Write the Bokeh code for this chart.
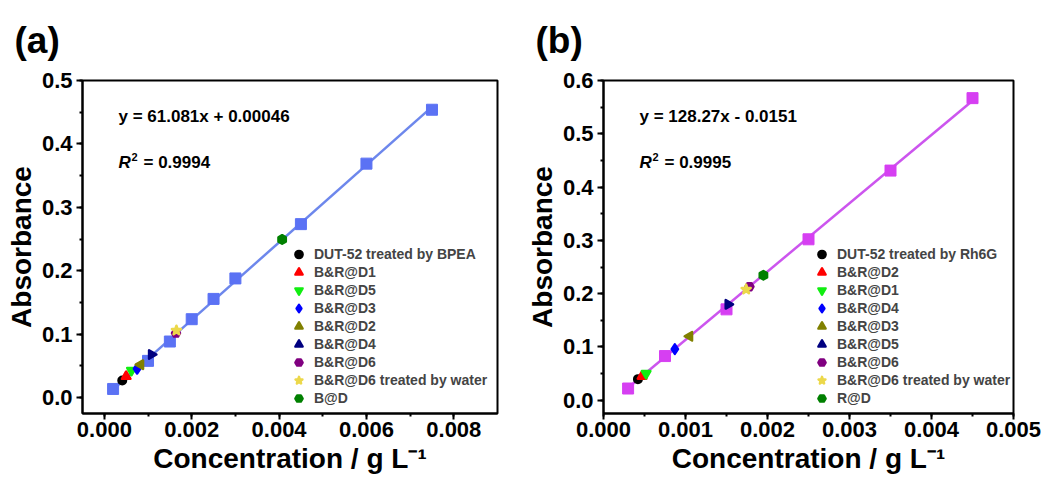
import math
from bokeh.plotting import figure
from bokeh.layouts import row
from bokeh.models import (Label, Legend, LegendItem, SingleIntervalTicker,
                          NumeralTickFormatter, Range1d)
from bokeh.embed import file_html
from bokeh.resources import INLINE

FONT = "Liberation Sans"

# ---- panel (a): BPEA calibration ----
std_a_x = [0.0002, 0.001, 0.0015, 0.002, 0.0025, 0.003, 0.0045, 0.006, 0.0075]
std_a_y = [0.0137, 0.058, 0.0885, 0.1237, 0.1557, 0.188, 0.2736, 0.369, 0.454]
slope_a, icpt_a, r2_a = 61.081, 0.00046, 0.9994

names_a = ["DUT-52 treated by BPEA", "B&R@D1", "B&R@D5", "B&R@D3", "B&R@D2",
           "B&R@D4", "B&R@D6", "B&R@D6 treated by water", "B@D"]
samp_a_x = [0.00041, 0.0005, 0.00062, 0.00075, 0.00083, 0.00108, 0.00164, 0.00165, 0.00407]
samp_a_y = [0.027, 0.0335, 0.043, 0.0456, 0.052, 0.068, 0.1017, 0.106, 0.2495]

# ---- panel (b): Rh6G calibration ----
std_b_x = [0.0003, 0.00075, 0.0015, 0.0025, 0.0035, 0.0045]
std_b_y = [0.0219, 0.0828, 0.1705, 0.302, 0.431, 0.567]
slope_b, icpt_b, r2_b = 128.27, -0.0151, 0.9995

names_b = ["DUT-52 treated by Rh6G", "B&R@D2", "B&R@D1", "B&R@D4", "B&R@D3",
           "B&R@D5", "B&R@D6", "B&R@D6 treated by water", "R@D"]
samp_b_x = [0.00042, 0.00047, 0.00052, 0.00087, 0.00105, 0.00152, 0.00178, 0.00174, 0.00195]
samp_b_y = [0.0395, 0.045, 0.050, 0.0959, 0.120, 0.180, 0.213, 0.208, 0.2345]

# marker styles shared by the sample series (in legend order)
sample_colors = ["#000000", "#ff0000", "#11ee11", "#0000ff", "#808000",
                 "#000080", "#800080", "#ecd84a", "#008000"]
sample_markers = ["circle", "triangle", "inverted_triangle", "diamond", "triangle",
                  "triangle", "hex", "star", "hex"]
sample_angles = [0, 0, 0, 0, math.pi / 2, -math.pi / 2, 0, 0, math.pi / 2]
sample_sizes = [7.5, 8.5, 8.5, 9.5, 8.5, 8.5, 8, 9.5, 8.5]


def make_panel(tag, std_x, std_y, slope, icpt, r2, names, sx, sy,
               sq_color, line_color, xr, yr, x_step, y_step,
               borders, legend_xy, standoff, eq_text):
    bl, br, bt, bb = borders
    p = figure(width=523, height=477, output_backend="svg", toolbar_location=None,
               x_range=Range1d(*xr), y_range=Range1d(*yr),
               min_border_left=bl, min_border_right=br,
               min_border_top=bt, min_border_bottom=bb)
    p.grid.visible = False
    p.outline_line_color = "black"
    p.outline_line_width = 2
    p.background_fill_color = "white"
    p.border_fill_color = "white"

    # panel tag
    p.title.text = tag
    p.title.text_font = FONT
    p.title.text_font_style = "bold"
    p.title.text_font_size = "37px"
    p.title.text_color = "black"
    p.title.align = "left"
    p.title.vertical_align = "top"
    p.title.offset = -68
    p.title.standoff = 36

    xax, yax = p.below[0], p.left[0]
    xax.ticker = SingleIntervalTicker(interval=x_step, num_minor_ticks=2)
    yax.ticker = SingleIntervalTicker(interval=y_step, num_minor_ticks=2)
    xax.formatter = NumeralTickFormatter(format="0.000")
    yax.formatter = NumeralTickFormatter(format="0.0")
    for ax in (xax, yax):
        ax.axis_line_width = 2
        ax.major_tick_line_width = 2
        ax.minor_tick_line_width = 2
        ax.major_tick_out = 6
        ax.major_tick_in = 0
        ax.minor_tick_out = 3
        ax.minor_tick_in = 0
        ax.major_label_text_font = FONT
        ax.major_label_text_font_style = "bold"
        ax.major_label_text_font_size = "22px"
        ax.major_label_text_color = "black"
        ax.axis_label_text_font = FONT
        ax.axis_label_text_font_style = "bold"
        ax.axis_label_text_font_size = "28px"
        ax.axis_label_text_color = "black"
    xax.major_label_standoff = 2
    yax.major_label_standoff = 4
    xax.axis_label = "Concentration / g L\u207b\u00b9"
    yax.axis_label = "Absorbance"
    xax.axis_label_standoff = 3
    yax.axis_label_standoff = 2

    # linear fit line drawn from the stated equation
    fx = [min(std_x), max(std_x)]
    fy = [slope * v + icpt for v in fx]
    p.line(fx, fy, line_color=line_color, line_width=2.5)
    p.scatter(std_x, std_y, marker="square", size=11, fill_color=sq_color,
              line_color=sq_color)

    items = []
    for i, name in enumerate(names):
        r = p.scatter([sx[i]], [sy[i]], marker=sample_markers[i],
                      size=sample_sizes[i], angle=sample_angles[i],
                      fill_color=sample_colors[i], line_color=sample_colors[i],
                      line_width=2.5, line_join="round")
        items.append(LegendItem(label=name, renderers=[r]))

    leg = Legend(items=items, location=legend_xy, border_line_color=None,
                 background_fill_alpha=0, padding=0, margin=0, spacing=0,
                 glyph_width=25, glyph_height=18, label_height=18,
                 label_standoff=standoff, label_text_font=FONT,
                 label_text_font_style="bold", label_text_font_size="14px")
    p.add_layout(leg, "center")

    def lab(text, x, y, size, style="bold", **kw):
        p.add_layout(Label(x=x, y=y, x_units="screen", y_units="screen", text=text,
                           text_font=FONT, text_font_style=style,
                           text_font_size=size, text_color="black", **kw))

    # fit equation and R^2
    lab(eq_text, 36, 297, "17px", text_baseline="middle")
    lab("R", 36, 251, "17px", style="bold italic", text_baseline="middle")
    lab("2", 49, 257, "11px", text_baseline="middle")
    lab("= %.4f" % r2, 61, 251, "17px", text_baseline="middle")
    return p


pa = make_panel("(a)", std_a_x, std_a_y, slope_a, icpt_a, r2_a, names_a,
                samp_a_x, samp_a_y, "#5b72f4", "#6d87ec",
                (-0.0005, 0.009), (-0.025, 0.5001), 0.002, 0.1,
                (82, 26, 80, 63), (204, 6), 3, "y = 61.081x + 0.00046")
pb = make_panel("(b)", std_b_x, std_b_y, slope_b, icpt_b, r2_b, names_b,
                samp_b_x, samp_b_y, "#d63ff2", "#cc55ee",
                (0.0, 0.005), (-0.025, 0.6001), 0.001, 0.1,
                (80, 33, 80, 64), (206, 6), 3, "y = 128.27x - 0.0151")

layout = row(pa, pb)
open("out.html", "w").write(file_html(layout, INLINE))
